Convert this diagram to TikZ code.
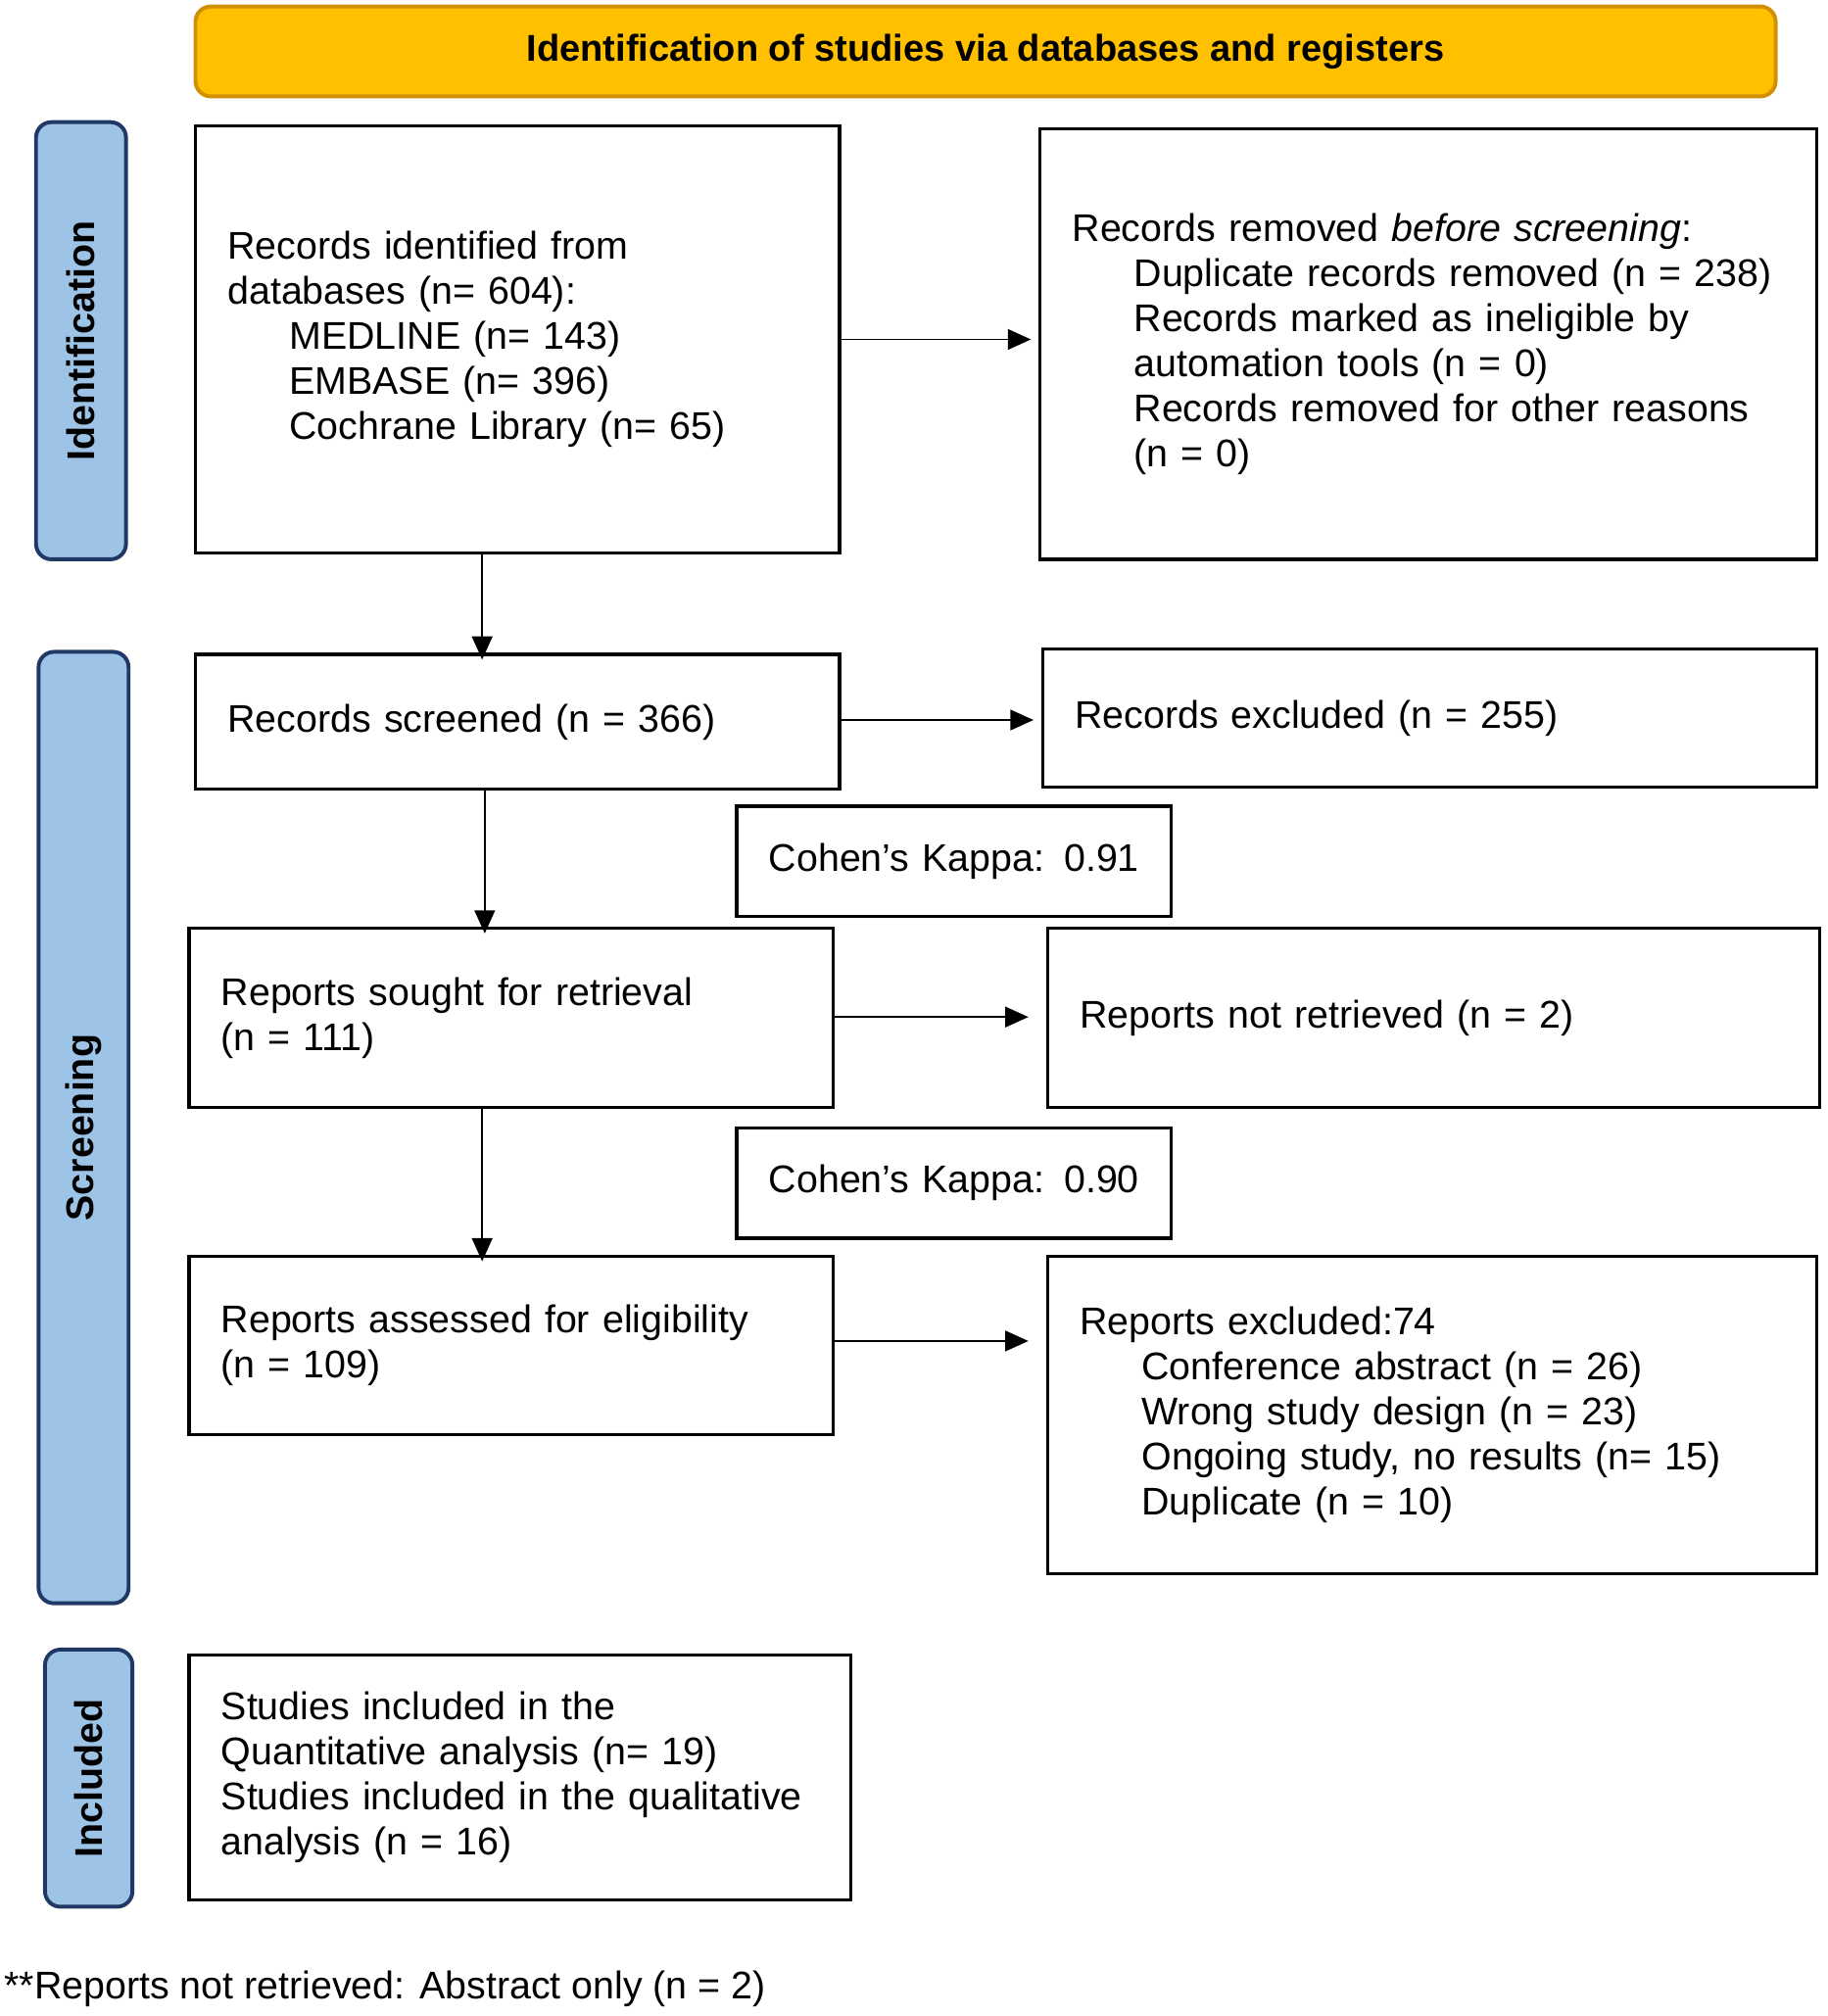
\documentclass[tikz,border=0pt]{standalone}
\usepackage{fontspec}
\setmainfont{Liberation Sans}
\usetikzlibrary{arrows.meta}
\definecolor{gold}{HTML}{FFC000}
\definecolor{goldb}{HTML}{D09000}
\definecolor{side}{HTML}{9DC3E6}
\definecolor{sideb}{HTML}{1F3864}
\begin{document}
\begin{tikzpicture}[x=0.5pt,y=-0.5pt,
  box/.style={draw,line width=1.2pt,inner xsep=12.5pt,inner ysep=0pt,align=left,font=\fontsize{15}{17.5}\selectfont},
  phase/.style={draw=sideb,fill=side,line width=1.5pt,rounded corners=6pt,font=\bfseries\fontsize{15}{17}\selectfont},
  arr/.style={-{Triangle[length=9pt,width=8pt]},line width=0.6pt}]
\useasboundingbox (0,0) rectangle (1421,1568);
\newcommand{\bx}[6]{\node[box,text width=(#4-#2)*0.5pt-25pt,minimum height=(#5-#3)*0.5pt] (#1) at ({(#2+#4)/2},{(#3+#5)/2}) {#6};}
\newcommand{\ph}[6]{\node[phase,minimum width=(#5-#3)*0.5pt,minimum height=(#4-#2)*0.5pt,rotate=90] (#1) at ({(#2+#4)/2},{(#3+#5)/2}) {#6};}
\node[draw=goldb,fill=gold,line width=1.5pt,rounded corners=6pt,minimum width=614.5pt,minimum height=35pt,font=\bfseries\fontsize{14.5}{17}\selectfont] (hdr) at (766.5,40) {Identification of studies via databases and registers};
\ph{pid}{28}{95}{98}{435}{Identification}
\ph{psc}{30}{507}{100}{1247}{Screening}
\ph{pin}{35}{1283}{103}{1483}{Included}
\def\ind{\hspace*{24pt}}
\bx{b1}{152}{98}{653}{430}{Records identified from\\databases (n= 604):\\\ind MEDLINE (n= 143)\\\ind EMBASE (n= 396)\\\ind Cochrane Library (n= 65)}
\bx{b2}{809}{100}{1413}{435}{Records removed \textit{before screening}:\\\ind Duplicate records removed (n = 238)\\\ind Records marked as ineligible by\\\ind automation tools (n = 0)\\\ind Records removed for other reasons\\\ind (n = 0)}
\bx{b3}{152}{509}{653}{614}{Records screened (n = 366)}
\bx{b4}{811}{505}{1413}{612}{Records excluded (n = 255)}
\bx{k1}{573}{627}{911}{713}{Cohen’s Kappa: 0.91}
\bx{b5}{147}{722}{648}{861}{Reports sought for retrieval\\(n = 111)}
\bx{b6}{815}{722}{1415}{861}{Reports not retrieved (n = 2)}
\bx{k2}{573}{877}{911}{963}{Cohen’s Kappa: 0.90}
\bx{b7}{147}{977}{648}{1116}{Reports assessed for eligibility\\(n = 109)}
\bx{b8}{815}{977}{1413}{1224}{Reports excluded:74\\\ind Conference abstract (n = 26)\\\ind Wrong study design (n = 23)\\\ind Ongoing study, no results (n= 15)\\\ind Duplicate (n = 10)}
\bx{b9}{147}{1287}{662}{1478}{Studies included in the\\Quantitative analysis (n= 19)\\Studies included in the qualitative\\analysis (n = 16)}
\node[anchor=west,inner sep=0pt,font=\fontsize{15}{17.5}\selectfont] (fn) at (3,1547) {**Reports not retrieved: Abstract only (n = 2)};
\draw[arr] (b1.east |- 0,264) -- ([xshift=-3pt]b2.west |- 0,264);
\draw[arr] (375,430) -- ([yshift=-2pt]375,509);
\draw[arr] (b3.east |- 0,560) -- ([xshift=-3pt]b4.west |- 0,560);
\draw[arr] (377,614) -- ([yshift=-2pt]377,722);
\draw[arr] (b5.east |- 0,791) -- ([xshift=-7pt]b6.west |- 0,791);
\draw[arr] (375,861) -- ([yshift=-2pt]375,977);
\draw[arr] (b7.east |- 0,1043) -- ([xshift=-7pt]b8.west |- 0,1043);
\end{tikzpicture}
\end{document}
